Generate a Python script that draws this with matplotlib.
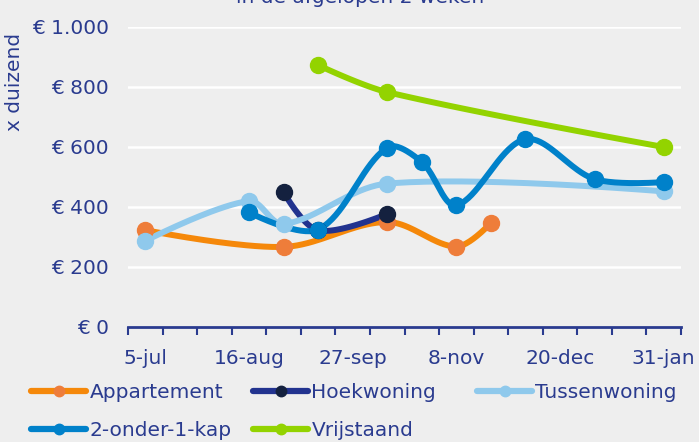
import datetime as dt

import matplotlib
matplotlib.use('Agg')
import matplotlib.pyplot as plt
import matplotlib.dates as mdates
from matplotlib.ticker import FixedLocator, FuncFormatter
import numpy as np

# data: days after 5-jul, prices x 1000 euro
start = dt.date(2022, 7, 5)

app_days = [0, 56, 98, 126, 140]
app_vals = [323, 267, 350, 268, 347]

hoek_days = [56, 70, 98]
hoek_vals = [450, 322, 377]

tussen_days = [0, 42, 56, 98, 210]
tussen_vals = [287, 420, 343, 478, 452]

kap_days = [42, 70, 98, 112, 126, 154, 182, 210]
kap_vals = [382, 325, 598, 550, 406, 626, 493, 483]

vrij_days = [70, 98, 210]
vrij_vals = [873, 783, 600]

series = ['Appartement', 'Hoekwoning', 'Tussenwoning', '2-onder-1-kap', 'Vrijstaand']
line_colors = ['#F5880A', '#22338F', '#8FC9EC', '#0081CA', '#93D300']
marker_colors = ['#EE7D3A', '#14213F', '#8FC9EC', '#0081CA', '#93D300']

NAVY = '#2A3B8F'
BG = '#EEEEEE'

plt.rcParams['font.family'] = ['DejaVu Sans']

# pixel scale of the plot area, used for the smoothing only
PX_DAY = 553 / 224
PX_VAL = 300 / 1000


def smooth(xs, ys, n=40):
    """ bezier smoothing with tangents scaled to the segment lengths """
    p = np.column_stack([np.asarray(xs) * PX_DAY, np.asarray(ys) * PX_VAL]).astype(float)
    if len(p) < 3:
        return np.asarray(xs, float), np.asarray(ys, float)
    d = np.linalg.norm(np.diff(p, axis=0), axis=1)
    m = np.zeros_like(p)
    for i in range(1, len(p) - 1):
        m[i] = (p[i + 1] - p[i - 1]) / (d[i - 1] + d[i])
    t = np.linspace(0, 1, n)[:, None]
    out = []
    for i in range(len(p) - 1):
        p0, p3 = p[i], p[i + 1]
        k = d[i] / 3.0
        c1 = p0 + m[i] * k
        c2 = p3 - m[i + 1] * k
        seg = (1 - t) ** 3 * p0 + 3 * (1 - t) ** 2 * t * c1 + 3 * (1 - t) * t ** 2 * c2 + t ** 3 * p3
        out.append(seg if i == 0 else seg[1:])
    out = np.vstack(out)
    return out[:, 0] / PX_DAY, out[:, 1] / PX_VAL


fig = plt.figure(figsize=(6.99, 4.42), dpi=100)
fig.patch.set_facecolor(BG)
ax = fig.add_axes([128 / 699, 1 - 327 / 442, (681 - 128) / 699, 300 / 442])
ax.set_facecolor(BG)

x0 = mdates.date2num(start)
all_data = [(app_days, app_vals), (hoek_days, hoek_vals), (tussen_days, tussen_vals),
            (kap_days, kap_vals), (vrij_days, vrij_vals)]

handles = []
for (days, vals), name, lc, mc in zip(all_data, series, line_colors, marker_colors):
    sx, sy = smooth(days, vals)
    ax.plot(x0 + sx, sy, color=lc, lw=4.3, solid_capstyle='round', zorder=3, clip_on=False)
    ax.plot(x0 + np.asarray(days), vals, 'o', color=mc, ms=11.5, zorder=4, clip_on=False)
    h, = ax.plot([], [], color=lc, lw=4.5, marker='o', ms=7.5, mfc=mc, mec=mc,
                 solid_capstyle='round', label=name)
    handles.append(h)

ax.set_xlim(x0 - 7, x0 + 217)
ax.set_ylim(0, 1000)

# y axis
ax.set_yticks(range(0, 1001, 200))
ax.yaxis.set_major_formatter(FuncFormatter(lambda v, p: '€ ' + f'{int(v):,}'.replace(',', '.')))
ax.tick_params(axis='y', length=0, pad=14, labelsize=14.5, labelcolor=NAVY)
ax.grid(axis='y', color='white', lw=1.8, zorder=0)

# x axis: labels every 6 weeks, tick marks every 2 weeks
label_pos = [x0 + 42 * k for k in range(6)]
ax.xaxis.set_major_locator(FixedLocator(label_pos))
ax.xaxis.set_major_formatter(FuncFormatter(
    lambda v, p: mdates.num2date(v).strftime('%-d-%b').lower()))
ax.xaxis.set_minor_locator(FixedLocator([x0 - 7 + 14 * k for k in range(17)]))
ax.tick_params(axis='x', which='major', length=0, pad=16, labelsize=14.5, labelcolor=NAVY)
ax.tick_params(axis='x', which='minor', length=6, width=1.5, color=NAVY, direction='out')

for s in ['top', 'right', 'left']:
    ax.spines[s].set_visible(False)
ax.spines['bottom'].set_color(NAVY)
ax.spines['bottom'].set_linewidth(2)
ax.spines['bottom'].set_zorder(5)

fig.text(15 / 699, 1 - 82 / 442, 'x duizend', rotation=90, ha='center', va='center',
         fontsize=14.5, color=NAVY)
fig.text(360 / 699, 1 - 3 / 442, 'in de afgelopen 2 weken', ha='center', va='baseline',
         fontsize=14.5, color=NAVY)

# legend: three columns of equal width, filled row by row
columns = [[0, 3], [1, 4], [2]]
col_x = [31, 253, 477]
for idx, cx in zip(columns, col_x):
    leg = fig.legend([handles[i] for i in idx], [series[i] for i in idx],
                     loc='upper left', bbox_to_anchor=(cx / 699, 1 - 383 / 442),
                     frameon=False, fontsize=14.5, handlelength=2.75, handletextpad=0.15,
                     labelspacing=0.95, borderaxespad=0, borderpad=0)
    for t in leg.get_texts():
        t.set_color(NAVY)

fig.savefig('out.png', dpi=100, facecolor=BG)
